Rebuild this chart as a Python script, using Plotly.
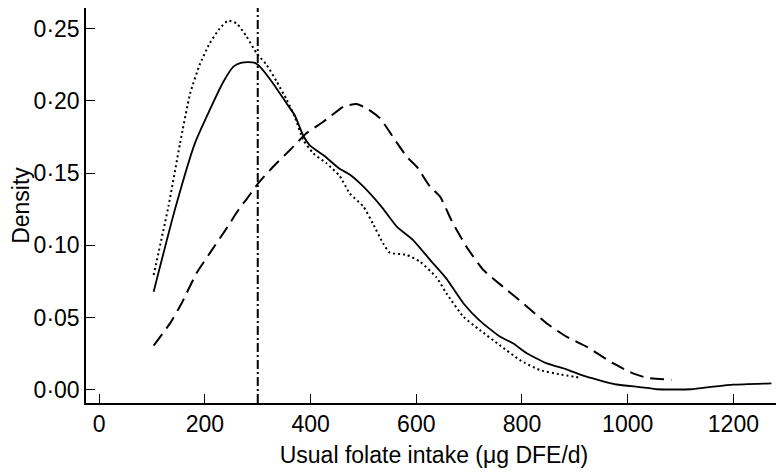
import plotly.graph_objects as go

# ---- data ----
solid_x = [103, 143, 181, 209, 235, 254, 268, 282, 295, 304, 329, 355, 370, 386, 399, 424, 455,
           474, 500, 534, 563, 594, 626, 657, 689, 720, 758, 783, 809, 847, 884, 922, 979,
           1023, 1055, 1120, 1162, 1200, 1272]
solid_y = [0.068, 0.1245, 0.1706, 0.1936, 0.2132, 0.2236, 0.2262, 0.2268, 0.2262, 0.2236, 0.212, 0.198,
           0.190, 0.176, 0.169, 0.1625, 0.153, 0.149, 0.1406, 0.1268, 0.113, 0.1037, 0.090,
           0.077, 0.060, 0.048, 0.037, 0.0323, 0.0254, 0.0184, 0.0143, 0.0092, 0.0038,
           0.002, 0.0005, 0.0005, 0.0023, 0.0037, 0.0046]

dotted_x = [103, 131, 153, 172, 190, 209, 228, 244, 260, 279, 298, 317, 336, 355, 370, 386,
            405, 430, 455, 474, 500, 518, 537, 550, 582, 607, 638, 657, 689, 720, 758, 796,
            834, 872, 910]
dotted_y = [0.0795, 0.127, 0.1706, 0.205, 0.2248, 0.2398, 0.250, 0.2555, 0.2535, 0.2444, 0.2328,
            0.2248, 0.2132, 0.2006, 0.189, 0.173, 0.1637, 0.1568, 0.148, 0.136, 0.1268, 0.115,
            0.1015, 0.095, 0.0934, 0.0887, 0.078, 0.0669, 0.0507, 0.0415, 0.031, 0.0207,
            0.0138, 0.0108, 0.0085]

dashed_x = [103, 134, 156, 184, 209, 241, 266, 279, 301, 329, 361, 392, 424, 440, 462, 487,
            506, 531, 556, 569, 582, 601, 626, 645, 667, 695, 727, 764, 802, 847, 884, 922,
            972, 1010, 1036, 1083]
dashed_y = [0.0307, 0.0461, 0.060, 0.0807, 0.0945, 0.1118, 0.126, 0.132, 0.143, 0.1544, 0.166,
            0.1775, 0.1855, 0.190, 0.196, 0.1978, 0.1948, 0.188, 0.175, 0.168, 0.1613, 0.1544,
            0.1406, 0.1337, 0.117, 0.099, 0.083, 0.0714, 0.060, 0.046, 0.0369, 0.030,
            0.0185, 0.0115, 0.0085, 0.0070]

ear_value = 300  # vertical reference line

x_ticks = [0, 200, 400, 600, 800, 1000, 1200]
y_ticks = [0.00, 0.05, 0.10, 0.15, 0.20, 0.25]
y_tick_labels = ["0·00", "0·05", "0·10", "0·15", "0·20", "0·25"]

FONT = "Liberation Sans, Arial, sans-serif"
FS = 23

fig = go.Figure()
fig.add_trace(go.Scatter(x=dotted_x, y=dotted_y, mode="lines",
                         line=dict(color="black", width=2, dash="2px,3px", shape="spline", smoothing=0.5)))
fig.add_trace(go.Scatter(x=solid_x, y=solid_y, mode="lines",
                         line=dict(color="black", width=1.8, shape="spline", smoothing=0.5)))
fig.add_trace(go.Scatter(x=dashed_x, y=dashed_y, mode="lines",
                         line=dict(color="black", width=2, dash="14px,7px", shape="spline", smoothing=0.5)))

fig.add_vline(x=ear_value, line=dict(color="black", width=2, dash="9px,3px,2px,3px"))

# the page body has a default 8px margin, so the figure is sized/offset to compensate
fig.update_layout(
    width=776, height=464,
    margin=dict(l=78, r=2, t=0, b=69),
    paper_bgcolor="white", plot_bgcolor="white",
    showlegend=False,
    font=dict(family=FONT, size=FS, color="black"),
)
fig.update_xaxes(
    range=[-25, 1292], tickvals=x_ticks, ticks="inside", ticklen=9, tickwidth=1, tickcolor="black",
    showline=True, linecolor="black", linewidth=1.5, showgrid=False, zeroline=False,
    automargin=False,
    title=dict(text="Usual folate intake (μg DFE/d)", standoff=11, font=dict(size=FS)),
    tickfont=dict(size=FS),
)
fig.update_yaxes(
    range=[-0.009, 0.2642], tickvals=y_ticks, ticktext=y_tick_labels, ticks="inside", ticklen=9,
    tickwidth=1, tickcolor="black",
    showline=True, linecolor="black", linewidth=1.5, showgrid=False, zeroline=False,
    automargin=False,
    title=dict(text="Density", standoff=11, font=dict(size=FS)),
    tickfont=dict(size=FS),
)

fig.write_html("out.html")
